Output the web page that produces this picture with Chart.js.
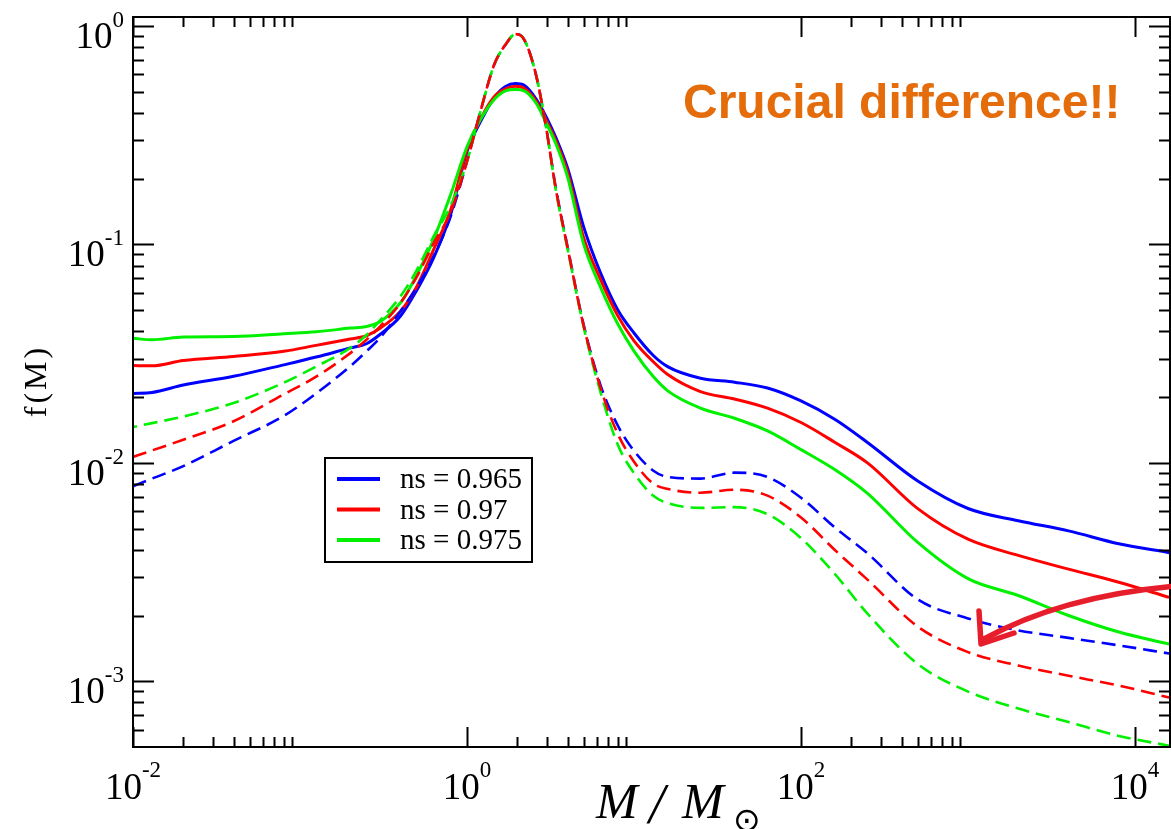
<!DOCTYPE html>
<html>
<head>
<meta charset="utf-8">
<title>f(M)</title>
<script src="https://cdn.jsdelivr.net/npm/chart.js@4.4.1/dist/chart.umd.min.js"></script>
<style>
  html, body { margin: 0; padding: 0; background: #ffffff; overflow: hidden; }
  canvas { display: block; }
</style>
</head>
<body>
<canvas id="massFunction" width="1171" height="829"></canvas>
<script>
// Mass grid, M / M_sun
const massValues = [0.01, 0.013, 0.02, 0.04, 0.08, 0.125, 0.2, 0.25, 0.3, 0.4, 0.5, 0.63, 0.8,
  1.0, 1.2, 1.45, 1.7, 1.95, 2.2, 2.6, 3.0, 3.4, 4.0, 5.0, 6.3, 8.0, 10, 13, 16, 25, 40, 63,
  100, 160, 250, 500, 1000, 2000, 4000, 8000, 16000];

// Solid curves
const fSolid0965 = [0.0208, 0.0210, 0.0227, 0.0249, 0.0281, 0.0305, 0.0336, 0.0351, 0.0386, 0.0470, 0.0617, 0.0865, 0.138,
  0.266, 0.363, 0.468, 0.528, 0.545, 0.535, 0.462, 0.380, 0.309, 0.224, 0.120, 0.0741, 0.0501, 0.0393, 0.0311, 0.0275, 0.0244, 0.0234, 0.0220,
  0.0192, 0.0158, 0.0124, 0.00826, 0.00618, 0.00543, 0.00488, 0.00426, 0.00388];
const fSolid0970 = [0.0279, 0.0278, 0.0294, 0.0307, 0.0324, 0.0345, 0.0369, 0.0382, 0.0412, 0.0495, 0.0641, 0.0944, 0.1445,
  0.272, 0.372, 0.473, 0.516, 0.530, 0.519, 0.452, 0.367, 0.299, 0.214, 0.107, 0.0692, 0.0471, 0.0362, 0.0291, 0.0253, 0.0212, 0.0196, 0.0178,
  0.0153, 0.0124, 0.0100, 0.00617, 0.00447, 0.00377, 0.00326, 0.00284, 0.00242];
const fSolid0975 = [0.0372, 0.0366, 0.0377, 0.0379, 0.0390, 0.0398, 0.0414, 0.0421, 0.0442, 0.0541, 0.0724, 0.105, 0.170,
  0.280, 0.372, 0.460, 0.505, 0.512, 0.505, 0.442, 0.356, 0.290, 0.204, 0.100, 0.0638, 0.0432, 0.0325, 0.0249, 0.0213, 0.0178, 0.0160, 0.0140,
  0.0115, 0.00930, 0.00725, 0.00432, 0.00295, 0.00247, 0.00200, 0.00168, 0.00148];

// Dashed curves
const fDashed0965 = [0.00782, 0.00847, 0.00966, 0.0126, 0.0164, 0.0208, 0.0277, 0.0324, 0.0372, 0.0495, 0.0638, 0.0879, 0.135,
  0.240, 0.403, 0.661, 0.822, 0.918, 0.867, 0.590, 0.331, 0.182, 0.0977, 0.0427, 0.0227, 0.0148, 0.01135, 0.00923, 0.00861, 0.00847, 0.00902, 0.00861,
  0.00692, 0.00505, 0.00385, 0.00237, 0.00194, 0.00171, 0.00158, 0.00146, 0.00134];
const fDashed0970 = [0.01064, 0.0114, 0.01276, 0.0155, 0.0206, 0.0248, 0.0318, 0.0366, 0.0419, 0.0540, 0.0711, 0.101, 0.141,
  0.240, 0.403, 0.661, 0.822, 0.918, 0.867, 0.590, 0.331, 0.180, 0.0966, 0.0422, 0.0221, 0.01355, 0.01012, 0.00804, 0.00759, 0.00730, 0.00753, 0.00708,
  0.00562, 0.00398, 0.00292, 0.00178, 0.00136, 0.00118, 0.00106, 0.000955, 0.000843];
const fDashed0975 = [0.0146, 0.0152, 0.0163, 0.0188, 0.0233, 0.0276, 0.0336, 0.0385, 0.0447, 0.0579, 0.0762, 0.1086, 0.151,
  0.240, 0.403, 0.661, 0.822, 0.918, 0.867, 0.590, 0.331, 0.178, 0.0955, 0.0417, 0.0211, 0.0121, 0.00897, 0.00708, 0.00653, 0.00622, 0.00627, 0.00582,
  0.00452, 0.00309, 0.00204, 0.00120, 0.000897, 0.000750, 0.000650, 0.000562, 0.000507];

// Axis ticks and labels
const xMajorTicks = [1e-2, 1e0, 1e2, 1e4];
const xMajorLabels = [['10', '-2'], ['10', '0'], ['10', '2'], ['10', '4']];
const yMajorTicks = [1, 1e-1, 1e-2, 1e-3];
const yMajorLabels = [['10', '0'], ['10', '-1'], ['10', '-2'], ['10', '-3']];
const seriesLabels = ['ns = 0.965', 'ns = 0.97', 'ns = 0.975'];
const seriesColors = ['#0000ff', '#ff0000', '#00f000'];

const SERIF = '"Liberation Serif", "Times New Roman", "DejaVu Serif", serif';

function points(values) {
  return massValues.map((m, i) => ({ x: m, y: values[i] }));
}

function solidSet(idx, values, order) {
  return {
    label: seriesLabels[idx], data: points(values), borderColor: seriesColors[idx],
    borderWidth: 3, pointRadius: 0, fill: false, cubicInterpolationMode: 'monotone',
    order: order, inLegend: true
  };
}
function dashedSet(idx, values, order, offset) {
  return {
    label: seriesLabels[idx] + ' (dashed)', data: points(values), borderColor: seriesColors[idx],
    borderWidth: 2.6, borderDash: [14, 7], borderDashOffset: offset, pointRadius: 0, fill: false,
    cubicInterpolationMode: 'monotone', order: order, inLegend: false
  };
}

// Frame, inward ticks, labels, legend and annotations
const decorations = {
  id: 'decorations',
  beforeDraw(chart) {
    const ctx = chart.ctx;
    ctx.save();
    ctx.fillStyle = '#ffffff';
    ctx.fillRect(0, 0, chart.width, chart.height);
    ctx.restore();
  },
  afterDraw(chart) {
    const ctx = chart.ctx;
    const a = chart.chartArea;
    const xs = chart.scales.x, ys = chart.scales.y;
    ctx.save();

    // frame
    ctx.strokeStyle = '#000';
    ctx.lineWidth = 2;
    ctx.strokeRect(a.left, a.top, a.right - a.left, a.bottom - a.top);

    // x ticks (minor only in even decades)
    const xMinor = [];
    xMajorTicks.forEach(d => { for (let k = 2; k <= 9; k++) xMinor.push(k * d); });
    ctx.beginPath();
    const tickX = (v, len) => {
      const px = Math.round(xs.getPixelForValue(v)) + 0.5;
      if (px < a.left || px > a.right) return;
      ctx.moveTo(px, a.bottom); ctx.lineTo(px, a.bottom - len);
      ctx.moveTo(px, a.top); ctx.lineTo(px, a.top + len);
    };
    xMajorTicks.forEach(v => tickX(v, 20));
    xMinor.forEach(v => tickX(v, 10));
    // y ticks
    const tickY = (v, len) => {
      const py = Math.round(ys.getPixelForValue(v)) + 0.5;
      if (py < a.top || py > a.bottom) return;
      ctx.moveTo(a.left, py); ctx.lineTo(a.left + len, py);
      ctx.moveTo(a.right, py); ctx.lineTo(a.right - len, py);
    };
    yMajorTicks.forEach(v => tickY(v, 21));
    for (let e = -4; e <= 0; e++) for (let k = 2; k <= 9; k++) tickY(k * Math.pow(10, e), 11);
    ctx.stroke();

    // tick labels with superscripts
    ctx.fillStyle = '#000';
    ctx.textBaseline = 'alphabetic';
    ctx.textAlign = 'left';
    const mainFont = '37px ' + SERIF, supFont = '23px ' + SERIF;
    const widths = (lab) => {
      ctx.font = mainFont; const w1 = ctx.measureText(lab[0]).width;
      ctx.font = supFont; const w2 = ctx.measureText(lab[1]).width;
      return [w1, w2];
    };
    xMajorTicks.forEach((v, i) => {
      const lab = xMajorLabels[i];
      const [w1, w2] = widths(lab);
      const x0 = xs.getPixelForValue(v) - (w1 + w2) / 2;
      ctx.font = mainFont; ctx.fillText(lab[0], x0, a.bottom + 52);
      ctx.font = supFont; ctx.fillText(lab[1], x0 + w1, a.bottom + 30);
    });
    yMajorTicks.forEach((v, i) => {
      const lab = yMajorLabels[i];
      const [w1, w2] = widths(lab);
      const py = ys.getPixelForValue(v);
      const x0 = 124 - (w1 + w2);
      ctx.font = mainFont; ctx.fillText(lab[0], x0, py + 22);
      ctx.font = supFont; ctx.fillText(lab[1], x0 + w1, py + 1);
    });

    // axis titles
    ctx.save();
    ctx.translate(38, 381);
    ctx.rotate(-Math.PI / 2);
    ctx.textAlign = 'center';
    ctx.textBaseline = 'middle';
    ctx.font = '32px ' + SERIF;
    ctx.letterSpacing = '3px';
    ctx.fillText('f(M)', 0, 0);
    ctx.restore();

    ctx.font = 'italic 50px ' + SERIF;
    ctx.fillText('M', 596, 818);
    ctx.font = 'italic 56px ' + SERIF;
    ctx.fillText('/', 649, 823);
    ctx.font = 'italic 50px ' + SERIF;
    ctx.fillText('M', 682, 818);
    ctx.font = '33px "DejaVu Sans", sans-serif';
    ctx.fillText('\u2299', 733, 831);

    // legend
    const lx = 325, ly = 458, lw = 207, lh = 104;
    ctx.fillStyle = '#fff';
    ctx.fillRect(lx, ly, lw, lh);
    ctx.strokeStyle = '#000';
    ctx.lineWidth = 2;
    ctx.strokeRect(lx, ly, lw, lh);
    const legendSets = chart.data.datasets.filter(d => d.inLegend)
      .sort((p, q) => seriesLabels.indexOf(p.label) - seriesLabels.indexOf(q.label));
    legendSets.forEach((d, i) => {
      const yy = 479 + i * 30.5;
      ctx.strokeStyle = d.borderColor;
      ctx.lineWidth = 4;
      ctx.beginPath(); ctx.moveTo(337, yy); ctx.lineTo(380, yy); ctx.stroke();
      ctx.fillStyle = '#000';
      ctx.font = '29px ' + SERIF;
      ctx.fillText(d.label, 400, yy + 9);
    });

    // headline
    ctx.fillStyle = '#e46c0a';
    ctx.font = 'bold 48px "Liberation Sans", Arial, sans-serif';
    ctx.fillText('Crucial difference!!', 683, 118);

    // hand-drawn arrow
    ctx.strokeStyle = '#e61e2b';
    ctx.lineWidth = 5.5;
    ctx.lineCap = 'round';
    ctx.lineJoin = 'round';
    ctx.beginPath();
    ctx.moveTo(1176, 586);
    ctx.quadraticCurveTo(1062, 596, 984, 639);
    ctx.stroke();
    ctx.beginPath();
    ctx.moveTo(979, 611);
    ctx.lineTo(981, 644);
    ctx.lineTo(1014, 633);
    ctx.stroke();

    ctx.restore();
  }
};

const chart = new Chart(document.getElementById('massFunction'), {
  type: 'line',
  data: {
    datasets: [
      solidSet(0, fSolid0965, 6),
      solidSet(1, fSolid0970, 5),
      solidSet(2, fSolid0975, 4),
      dashedSet(0, fDashed0965, 3, 0),
      dashedSet(2, fDashed0975, 2, 10),
      dashedSet(1, fDashed0970, 1, 0)
    ]
  },
  options: {
    responsive: false,
    devicePixelRatio: 1,
    animation: false,
    layout: { padding: { left: 133, top: 17, right: 1, bottom: 82 } },
    scales: {
      x: { type: 'logarithmic', min: 0.01, max: 16200, display: false },
      y: { type: 'logarithmic', min: 5e-4, max: 1.1, display: false }
    },
    plugins: { legend: { display: false }, tooltip: { enabled: false } },
    elements: { line: { borderCapStyle: 'butt', borderJoinStyle: 'round' } }
  },
  plugins: [decorations]
});
</script>
</body>
</html>
